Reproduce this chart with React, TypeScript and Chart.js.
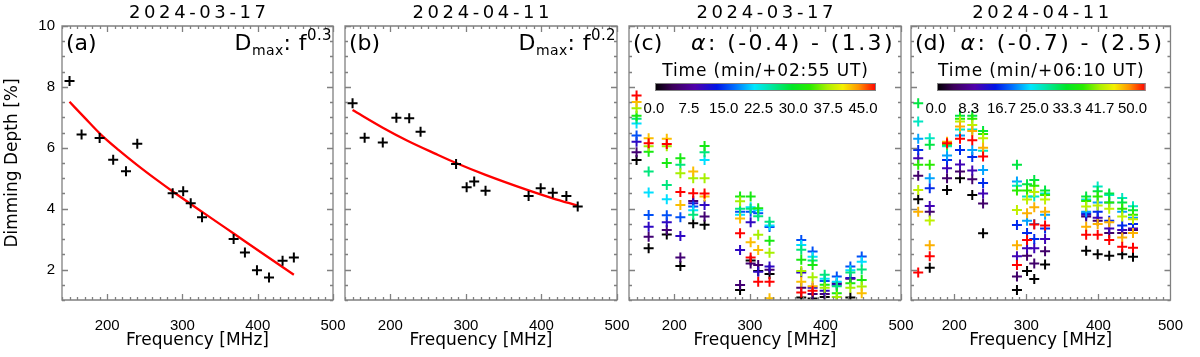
import React, { useEffect, useRef } from 'react';
import { Chart, registerables } from 'chart.js';

Chart.register(...registerables);

// ---------------- data ----------------
const TITLE_1 = '2024-03-17';
const TITLE_2 = '2024-04-11';

const FREQ_1 = [150, 166, 190, 208, 225, 240, 287, 301, 311, 326, 368, 383, 399, 415, 433, 448];
const FREQ_2 = [150, 166, 190, 208, 225, 240, 287, 301, 311, 326, 383, 399, 415, 433, 448];

const DEPTH_A = [8.19, 6.44, 6.32, 5.61, 5.23, 6.13, 4.51, 4.57, 4.18, 3.72, 3.0, 2.56, 1.98, 1.74, 2.29, 2.4];
const FIT_A_FREQ = [150, 170, 191, 215, 240, 265, 289, 330, 370, 410, 448];
const FIT_A = [7.51, 6.99, 6.45, 5.93, 5.43, 4.96, 4.53, 3.83, 3.15, 2.47, 1.83];
const EXP_A = '0.3';

const DEPTH_B = [7.46, 6.33, 6.17, 6.99, 6.97, 6.53, 5.47, 4.7, 4.89, 4.59, 4.42, 4.67, 4.52, 4.42, 4.07];
const FIT_B_FREQ = [150, 190, 222, 260, 287, 326, 383, 415, 448];
const FIT_B = [7.24, 6.66, 6.24, 5.8, 5.5, 5.11, 4.6, 4.34, 4.1];
const EXP_B = '0.2';

const TIME_C = [0, 5, 10, 15, 20, 25, 30, 35, 40, 45];
const TIME_C_MAX = 45;
const CB_LABELS_C = ['0.0', '7.5', '15.0', '22.5', '30.0', '37.5', '45.0'];
const ALPHA_C = '(-0.4) - (1.3)';
const TIME_LABEL_C = 'Time (min/+02:55 UT)';
// rows: FREQ_1, columns: TIME_C
const DEPTH_C = [
  [5.6, 5.85, 6.2, 6.4, 6.8, 6.95, 7.05, 7.3, 7.5, 7.72],
  [2.7, 3.08, 3.41, 3.79, 4.53, 5.22, 5.87, 6.05, 6.31, 6.15],
  [3.15, 3.3, 3.55, 3.78, 4.31, 4.78, 5.5, 6.05, 6.3, 6.12],
  [2.12, 2.4, 3.1, 3.72, null, 5.44, 5.66, 5.16, 4.12, 4.55],
  [3.52, 4.25, 4.18, 4.07, 3.95, 3.8, null, 5.0, 5.22, 4.51],
  [3.47, 3.74, 4.12, null, 5.6, 5.85, 6.06, 5.0, 4.4, 4.5],
  [1.33, 1.49, 2.64, 3.9, 3.8, 4.0, 4.4, 4.24, 3.68, 3.19],
  [2.3, 2.2, 3.55, 3.9, 4.05, 4.0, 4.4, null, 2.9, 2.4],
  [1.95, 2.15, 1.93, 3.85, 3.95, 3.75, 4.01, 3.14, 2.64, 1.6],
  [1.85, 1.99, 2.1, 3.4, 3.45, 3.57, 2.95, 2.55, 1.06, 1.6],
  [1.08, 1.4, 1.9, 2.97, 2.81, 2.65, 2.32, 1.95, 1.6, 1.25],
  [1.05, 1.2, 1.4, 2.59, 2.42, 2.3, 2.15, 1.75, 1.45, 1.3],
  [1.1, 1.2, 1.3, 1.62, 1.7, 1.83, 1.5, 1.4, null, null],
  [0.9, 1.55, 1.5, 1.77, 1.6, 1.45, 1.22, 1.1, null, null],
  [1.08, 1.7, 1.72, 2.1, 1.98, 1.9, 1.55, 1.4, null, null],
  [null, null, null, 2.43, 2.26, 2.0, 1.66, 1.44, 1.22, null],
];

const TIME_D = [0, 5, 10, 15, 20, 25, 30, 35, 40, 45, 50];
const TIME_D_MAX = 50;
const CB_LABELS_D = ['0.0', '8.3', '16.7', '25.0', '33.3', '41.7', '50.0'];
const ALPHA_D = '(-0.7) - (2.5)';
const TIME_LABEL_D = 'Time (min/+06:10 UT)';
// rows: FREQ_2, columns: TIME_D
const DEPTH_D = [
  [4.31, 5.08, 5.66, 5.93, 6.3, 6.86, 7.46, 5.44, 4.61, 3.9, 1.9],
  [2.06, 3.9, 4.09, 4.67, 5.0, 6.31, 6.1, 5.44, 3.61, 2.8, 2.44],
  [4.61, 5.0, 5.33, 5.6, 5.75, 6.05, 6.1, 6.12, 6.15, 6.2, 6.15],
  [5.0, 5.22, 5.45, 5.93, 6.4, 6.6, 7.05, 6.95, 6.86, 6.7, 6.3],
  [4.45, 4.97, 5.25, 5.7, 5.93, 6.6, 7.05, 6.95, 6.75, 6.55, 6.25],
  [3.19, 4.17, 4.5, 4.84, 5.27, 5.9, 6.55, 6.45, 6.31, 6.0, 5.71],
  [1.33, 1.77, 2.44, 3.46, 4.89, 4.75, 5.44, 4.6, 3.96, 2.8, 2.15],
  [1.95, 2.45, 2.7, 3.2, 3.6, 4.4, 4.8, 4.6, 4.3, 3.85, 2.97],
  [1.69, 2.2, 2.7, 3.0, 3.5, 4.4, 4.94, 4.75, 4.55, 4.05, 3.48],
  [2.17, 2.6, 3.0, 3.35, 3.8, 4.5, 4.6, 4.45, 4.3, 3.9, 3.45],
  [2.62, 3.74, 3.8, 3.85, 3.9, 4.3, 4.4, 4.25, 4.07, 3.41, 3.14],
  [2.5, 3.6, 3.7, 3.9, 4.2, 4.73, 4.57, 4.4, 4.1, 3.5, 3.14],
  [2.45, 3.2, 3.35, 3.6, 4.2, 4.45, 4.5, 4.2, 4.0, 3.55, 2.97],
  [2.5, 3.2, 3.3, 3.45, 3.9, 4.35, 4.2, 4.0, 3.74, 3.05, 2.75],
  [2.42, 3.3, 3.35, 3.5, 3.7, 4.08, 3.95, 3.8, 3.65, 3.2, 2.72],
];

const X_MIN = 140;
const X_MAX = 500;
const Y_MIN = 1;
const Y_MAX = 10;
const X_TICKS = [200, 300, 400, 500];
const Y_TICKS = [2, 4, 6, 8, 10];

// ---------------- style ----------------
const FONT = '"DejaVu Sans", "Liberation Sans", sans-serif';
const TICK_FONT = '"Liberation Sans", Arial, sans-serif';
const AXIS_COLOR = '#808080';
const PANEL_BOX = [
  { left: 62, right: 333 },
  { left: 345, right: 617 },
  { left: 629, right: 901 },
  { left: 911, right: 1184 },
];
const CMAP_POS = [0, 0.08, 0.18, 0.28, 0.36, 0.45, 0.52, 0.62, 0.7, 0.78, 0.85, 0.92, 1];
const CMAP_RGB = [
  [0, 0, 0], [60, 0, 90], [80, 0, 170], [0, 20, 230], [0, 110, 255], [0, 230, 255],
  [0, 230, 170], [0, 230, 40], [40, 235, 0], [170, 240, 0], [245, 240, 0], [255, 150, 0], [255, 0, 0],
];

function cmap(f: number): string {
  const v = Math.max(0, Math.min(1, f));
  for (let i = 1; i < CMAP_POS.length; i++) {
    if (v <= CMAP_POS[i]) {
      const a = (v - CMAP_POS[i - 1]) / (CMAP_POS[i] - CMAP_POS[i - 1]);
      const c0 = CMAP_RGB[i - 1];
      const c1 = CMAP_RGB[i];
      const c = c0.map((x, j) => Math.round(x + (c1[j] - x) * a));
      return `rgb(${c[0]},${c[1]},${c[2]})`;
    }
  }
  return 'rgb(255,0,0)';
}

type Seg = { t: string; size: number; dy?: number; italic?: boolean };
function fontOf(s: Seg) {
  return `${s.italic ? 'italic ' : ''}${s.size}px ${FONT}`;
}
function drawRich(ctx: any, segs: Seg[], x: number, y: number, align: string, spacing: number) {
  ctx.letterSpacing = `${spacing}px`;
  const ws = segs.map((s) => {
    ctx.font = fontOf(s);
    return ctx.measureText(s.t).width;
  });
  const total = ws.reduce((a, b) => a + b, 0);
  let cx = align === 'right' ? x - total : align === 'center' ? x - total / 2 : x;
  ctx.textAlign = 'left';
  ctx.textBaseline = 'alphabetic';
  segs.forEach((s, i) => {
    ctx.font = fontOf(s);
    ctx.fillText(s.t, cx, y + (s.dy || 0));
    cx += ws[i];
  });
  ctx.letterSpacing = '0px';
}

type Deco = {
  title: string;
  tag: string;
  exp?: string;
  alpha?: string;
  timeLabel?: string;
  cbLabels?: string[];
};

function decorPlugin(o: Deco) {
  return {
    id: 'decor',
    afterDraw(chart: any) {
      const ctx = chart.ctx;
      const { left, right, top, bottom } = chart.chartArea;
      const xs = chart.scales.x;
      const ys = chart.scales.y;
      ctx.save();
      // frame and inward ticks
      ctx.strokeStyle = AXIS_COLOR;
      ctx.lineWidth = 1.3;
      ctx.beginPath();
      ctx.rect(left, top, right - left, bottom - top);
      for (let v = X_MIN; v <= X_MAX + 1e-6; v += 10) {
        const px = Math.round(xs.getPixelForValue(v)) + 0.5;
        const len = Math.abs(v % 100) < 1e-6 ? 6 : 3;
        ctx.moveTo(px, bottom);
        ctx.lineTo(px, bottom - len);
        ctx.moveTo(px, top);
        ctx.lineTo(px, top + len);
      }
      for (let v = Y_MIN; v <= Y_MAX + 1e-6; v += 0.5) {
        const py = Math.round(ys.getPixelForValue(v)) + 0.5;
        const len = Math.abs(v % 2) < 1e-6 ? 6 : 3;
        ctx.moveTo(left, py);
        ctx.lineTo(left + len, py);
        ctx.moveTo(right, py);
        ctx.lineTo(right - len, py);
      }
      ctx.stroke();

      ctx.fillStyle = '#000';
      // date title
      ctx.letterSpacing = '3.6px';
      ctx.font = `18px ${FONT}`;
      ctx.textAlign = 'center';
      ctx.textBaseline = 'alphabetic';
      ctx.fillText(o.title, (left + right) / 2 + 1.8, 17.5);
      ctx.letterSpacing = '0px';

      // panel tag
      ctx.font = `22px ${FONT}`;
      ctx.textAlign = 'left';
      ctx.fillText(o.tag, left + 4, 50);

      if (o.exp) {
        drawRich(
          ctx,
          [
            { t: 'D', size: 22 },
            { t: 'max', size: 14, dy: 4.5 },
            { t: ': f', size: 22 },
            { t: o.exp, size: 15, dy: -10 },
          ],
          right - 1,
          50,
          'right',
          0.4
        );
      }

      if (o.alpha) {
        drawRich(ctx, [{ t: 'α', size: 22, italic: true }, { t: ': ' + o.alpha, size: 22 }], right - 6, 50, 'right', 2.4);
        const bx0 = left + 26;
        const bx1 = right - 25;
        const by0 = 83;
        const bh = 8;
        drawRich(ctx, [{ t: o.timeLabel || '', size: 17 }], (bx0 + bx1) / 2, 75.5, 'center', 0.85);
        const g = ctx.createLinearGradient(bx0, 0, bx1, 0);
        CMAP_POS.forEach((p, i) => g.addColorStop(p, `rgb(${CMAP_RGB[i].join(',')})`));
        ctx.fillStyle = g;
        ctx.fillRect(bx0, by0, bx1 - bx0, bh);
        ctx.strokeStyle = AXIS_COLOR;
        ctx.lineWidth = 1;
        ctx.strokeRect(bx0 + 0.5, by0 + 0.5, bx1 - bx0 - 1, bh - 1);
        ctx.fillStyle = '#000';
        ctx.font = `15px ${TICK_FONT}`;
        ctx.textAlign = 'center';
        const labels = o.cbLabels || [];
        const step = (bx1 - bx0 - 12) / (labels.length - 1);
        labels.forEach((lab, i) => {
          ctx.fillText(lab, bx0 - 1 + i * step, 113);
        });
      }
      ctx.restore();
    },
  };
}

function crossSet(data: any[], color: string, extra: any = {}) {
  return {
    data,
    showLine: false,
    pointStyle: 'cross',
    pointRadius: 5,
    pointHoverRadius: 5,
    pointBorderWidth: 2,
    borderColor: color,
    backgroundColor: color,
    pointBorderColor: color,
    pointBackgroundColor: color,
    ...extra,
  };
}

function fitSet(freq: number[], vals: number[]) {
  return {
    data: freq.map((f, i) => ({ x: f, y: vals[i] })),
    showLine: true,
    pointRadius: 0,
    pointHoverRadius: 0,
    borderColor: '#ff0000',
    backgroundColor: '#ff0000',
    borderWidth: 2.3,
    tension: 0.4,
    cubicInterpolationMode: 'monotone',
  };
}

function timeSets(freq: number[], depth: (number | null)[][], times: number[], tmax: number) {
  return times.map((t, k) => {
    const data = freq
      .map((f, i) => ({ x: f, y: depth[i][k] }))
      .filter((p) => p.y !== null && p.y !== undefined);
    return crossSet(data, cmap(t / tmax), { clip: 0, order: -k });
  });
}

function makeConfig(index: number): any {
  const box = PANEL_BOX[index];
  const showY = index === 0;
  const yWidth = showY ? box.left : 0;
  let datasets: any[] = [];
  let deco: Deco;
  if (index === 0) {
    datasets = [crossSet(FREQ_1.map((f, i) => ({ x: f, y: DEPTH_A[i] })), '#000'), fitSet(FIT_A_FREQ, FIT_A)];
    deco = { title: TITLE_1, tag: '(a)', exp: EXP_A };
  } else if (index === 1) {
    datasets = [crossSet(FREQ_2.map((f, i) => ({ x: f, y: DEPTH_B[i] })), '#000'), fitSet(FIT_B_FREQ, FIT_B)];
    deco = { title: TITLE_2, tag: '(b)', exp: EXP_B };
  } else if (index === 2) {
    datasets = timeSets(FREQ_1, DEPTH_C, TIME_C, TIME_C_MAX);
    deco = { title: TITLE_1, tag: '(c)', alpha: ALPHA_C, timeLabel: TIME_LABEL_C, cbLabels: CB_LABELS_C };
  } else {
    datasets = timeSets(FREQ_2, DEPTH_D, TIME_D, TIME_D_MAX);
    deco = { title: TITLE_2, tag: '(d)', alpha: ALPHA_D, timeLabel: TIME_LABEL_D, cbLabels: CB_LABELS_D };
  }
  return {
    type: 'scatter',
    data: { datasets },
    plugins: [decorPlugin(deco)],
    options: {
      responsive: false,
      animation: false,
      events: [],
      layout: { padding: { left: box.left - yWidth, right: 1200 - box.right, top: 26, bottom: 0 } },
      plugins: { legend: { display: false }, tooltip: { enabled: false }, title: { display: false } },
      scales: {
        x: {
          type: 'linear',
          min: X_MIN,
          max: X_MAX,
          grid: { display: false, drawTicks: false },
          border: { display: false },
          afterBuildTicks: (s: any) => {
            s.ticks = X_TICKS.map((v) => ({ value: v }));
          },
          afterFit: (s: any) => {
            s.height = 57;
          },
          ticks: {
            font: { family: TICK_FONT, size: 15 },
            color: '#000',
            padding: 17,
            maxRotation: 0,
            autoSkip: false,
          },
          title: {
            display: true,
            text: 'Frequency [MHz]',
            font: { family: FONT, size: 17 },
            color: '#000',
            padding: { top: 0, bottom: 6 },
          },
        },
        y: {
          type: 'linear',
          min: Y_MIN,
          max: Y_MAX,
          grid: { display: false, drawTicks: false },
          border: { display: false },
          afterBuildTicks: (s: any) => {
            s.ticks = Y_TICKS.map((v) => ({ value: v }));
          },
          afterFit: (s: any) => {
            s.width = yWidth;
          },
          ticks: {
            display: showY,
            font: { family: TICK_FONT, size: 15 },
            color: '#000',
            padding: 7,
          },
          title: {
            display: showY,
            text: 'Dimming Depth [%]',
            font: { family: FONT, size: 17 },
            color: '#000',
            padding: { top: 2, bottom: 0 },
          },
        },
      },
    },
  };
}

function Panel({ index }: { index: number }) {
  const ref = useRef<HTMLCanvasElement | null>(null);
  useEffect(() => {
    if (!ref.current) return;
    const chart = new Chart(ref.current, makeConfig(index));
    return () => chart.destroy();
  }, [index]);
  return (
    <canvas
      ref={ref}
      width={1200}
      height={357}
      style={{ position: 'absolute', left: 0, top: 0, width: 1200, height: 357 }}
    />
  );
}

export default function App() {
  return (
    <div style={{ position: 'fixed', left: 0, top: 0, width: 1200, height: 357, background: '#fff', overflow: 'hidden' }}>
      {[0, 1, 2, 3].map((i) => (
        <Panel key={i} index={i} />
      ))}
    </div>
  );
}
